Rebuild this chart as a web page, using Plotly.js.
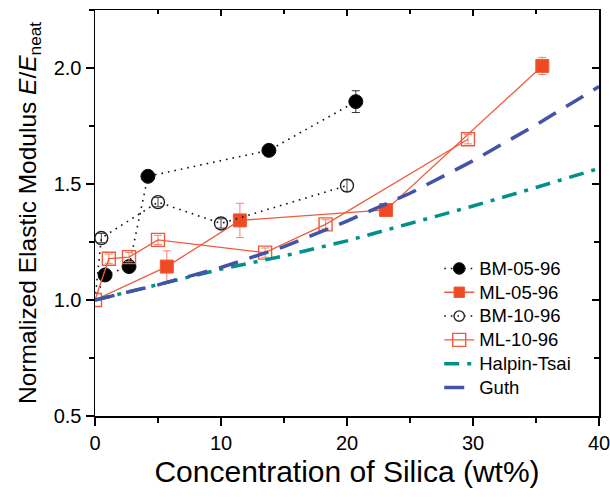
<!DOCTYPE html>
<html>
<head>
<meta charset="utf-8">
<script src="https://cdn.plot.ly/plotly-3.0.1.min.js"></script>
<style>html,body{margin:0;padding:0;background:#fff}#chart{width:610px;height:497px}</style>
</head>
<body>
<div id="chart"></div>
<script>
// ---- data ----
const bm05_x = [0, 0.8, 2.7, 4.2, 13.8, 20.7];
const bm05_y = [1.0, 1.108, 1.144, 1.533, 1.645, 1.855];
const bm05_err = [0, 0, 0, 0, 0, 0.047];

const ml05_x = [0, 5.7, 11.5, 23.1, 35.5];
const ml05_y = [1.0, 1.144, 1.343, 1.388, 2.009];
const ml05_err = [0, 0.068, 0.074, 0, 0.037];

const bm10_x = [0, 0.5, 5.0, 10.0, 20.0];
const bm10_y = [1.0, 1.267, 1.422, 1.33, 1.493];
const bm10_err = [0, 0.02, 0.02, 0.02, 0.025];

const ml10_x = [0, 1.1, 2.7, 5.0, 13.5, 18.3, 29.6];
const ml10_y = [1.0, 1.178, 1.185, 1.259, 1.204, 1.326, 1.693];
const ml10_err = [0, 0.02, 0.02, 0.02, 0.02, 0.02, 0.02];

const model_x = [0, 5, 10, 15, 20, 25, 30, 35, 40];
const halpin_y = [1.0, 1.065, 1.133, 1.19, 1.255, 1.33, 1.405, 1.485, 1.567];
const guth_y = [1.0, 1.065, 1.14, 1.23, 1.34, 1.46, 1.6, 1.755, 1.92];

const names = ['BM-05-96', 'ML-05-96', 'BM-10-96', 'ML-10-96', 'Halpin-Tsai', 'Guth'];

const ORANGE = '#EE4A24';
const OLINE = '#F05A3C';
const TEAL = '#00918A';
const BLUE = '#4353A8';

function hideFirst(n, s) { const a = []; for (let i = 0; i < n; i++) a.push(i === 0 ? 0 : s); return a; }
function big(t) { return '<span style="font-size:18.5px">' + t + '</span>'; }

const traces = [
  {
    x: bm05_x, y: bm05_y, name: big(names[0]), mode: 'lines+markers', type: 'scatter',
    line: {color: '#111', width: 1.6, dash: '1.6px,5px'},
    marker: {symbol: 'circle', color: '#000', opacity: 1, size: hideFirst(bm05_x.length, 14)},
    error_y: {type: 'data', array: bm05_err, visible: true, color: '#333', thickness: 1, width: 4}
  },
  {
    x: ml05_x, y: ml05_y, name: big(names[1]), mode: 'lines+markers', type: 'scatter',
    line: {color: OLINE, width: 1.3},
    marker: {symbol: 'square', color: ORANGE, opacity: 1, size: hideFirst(ml05_x.length, 13)},
    error_y: {type: 'data', array: ml05_err, visible: true, color: '#F3866C', thickness: 1, width: 4}
  },
  {
    x: bm10_x, y: bm10_y, name: big(names[2]), mode: 'lines+markers', type: 'scatter',
    line: {color: '#111', width: 1.6, dash: '1.6px,5px'},
    marker: {symbol: 'circle-open', color: '#222', opacity: 1, size: hideFirst(bm10_x.length, 13), line: {width: 1.4}},
    error_y: {type: 'data', array: bm10_err, visible: true, color: '#444', thickness: 1, width: 4}
  },
  {
    x: ml10_x, y: ml10_y, name: big(names[3]), mode: 'lines+markers', type: 'scatter',
    line: {color: OLINE, width: 1.3},
    marker: {symbol: 'square-open', color: OLINE, opacity: 1, size: 13, line: {width: 1.4}},
    error_y: {type: 'data', array: ml10_err, visible: true, color: '#F3866C', thickness: 1, width: 4}
  },
  {
    x: model_x, y: halpin_y, name: big(names[4]), mode: 'lines', type: 'scatter',
    line: {color: TEAL, width: 3.5, dash: '15px,8px,4px,8px'}
  },
  {
    x: model_x, y: guth_y, name: big(names[5]), mode: 'lines', type: 'scatter',
    line: {color: BLUE, width: 3.5, dash: '20px,12px'}
  },
  {
    x: [0], y: [1], xaxis: 'x2', yaxis: 'y2', mode: 'markers', type: 'scatter',
    marker: {opacity: 0}, showlegend: false, hoverinfo: 'skip'
  }
];

const F = 'Liberation Sans, Arial, Helvetica, sans-serif';

const layout = {
  width: 610, height: 497,
  margin: {l: 95, r: 11, t: 10, b: 81},
  paper_bgcolor: '#fff', plot_bgcolor: '#fff',
  font: {family: F, color: '#000'},
  showlegend: true,
  legend: {
    x: 0.683, y: 0.405, xanchor: 'left', yanchor: 'top',
    bgcolor: 'rgba(0,0,0,0)', borderwidth: 0,
    font: {family: F, size: 16, color: '#000'},
    tracegroupgap: 0
  },
  xaxis: {
    range: [0, 40], dtick: 10, tick0: 0,
    ticks: 'outside', ticklen: 8, tickwidth: 1.3, tickcolor: '#000',
    minor: {dtick: 5, ticks: 'outside', ticklen: 5, tickwidth: 1.3, tickcolor: '#000'},
    showline: true, linewidth: 1.5, linecolor: '#000',
    showgrid: false, zeroline: false, ticklabeloverflow: 'allow',
    tickfont: {family: F, size: 20, color: '#000'},
    title: {text: 'Concentration of Silica (wt%)', font: {family: F, size: 30, color: '#000'}, standoff: 8}
  },
  yaxis: {
    range: [0.5, 2.25], dtick: 0.5, tick0: 0.5, tickformat: '.1f',
    ticks: 'outside', ticklen: 8, tickwidth: 1.3, tickcolor: '#000',
    minor: {dtick: 0.25, ticks: 'outside', ticklen: 5, tickwidth: 1.3, tickcolor: '#000'},
    showline: true, linewidth: 1.5, linecolor: '#000',
    showgrid: false, zeroline: false,
    tickfont: {family: F, size: 20, color: '#000'},
    title: {text: 'Normalized Elastic Modulus <i>E</i>/<i>E</i><sub>neat</sub>', font: {family: F, size: 24.5, color: '#000'}, standoff: 10}
  },
  xaxis2: {
    overlaying: 'x', side: 'top', anchor: 'y', range: [0, 40], dtick: 10, tick0: 0,
    ticks: 'inside', ticklen: 6, tickwidth: 1.3, tickcolor: '#000',
    minor: {dtick: 5, ticks: 'inside', ticklen: 4, tickwidth: 1.3, tickcolor: '#000'},
    showline: true, linewidth: 1.5, linecolor: '#000',
    showgrid: false, zeroline: false, showticklabels: false
  },
  yaxis2: {
    overlaying: 'y', side: 'right', anchor: 'x', range: [0.5, 2.25], dtick: 0.5, tick0: 0.5,
    ticks: 'inside', ticklen: 7, tickwidth: 1.3, tickcolor: '#000',
    minor: {dtick: 0.25, ticks: 'inside', ticklen: 5, tickwidth: 1.3, tickcolor: '#000'},
    showline: true, linewidth: 1.5, linecolor: '#000',
    showgrid: false, zeroline: false, showticklabels: false
  }
};

Plotly.newPlot('chart', traces, layout, {displayModeBar: false, staticPlot: true});
</script>
</body>
</html>
